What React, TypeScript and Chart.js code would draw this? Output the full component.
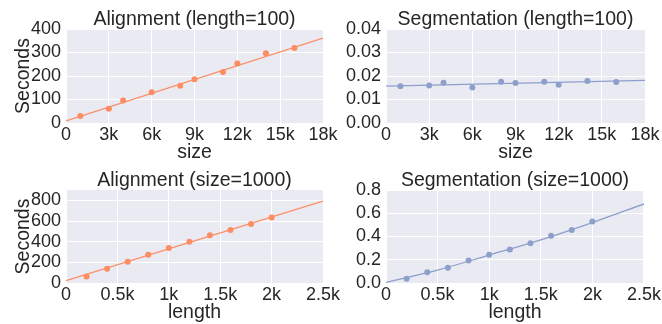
import React, { useEffect, useRef } from "react";
import { Chart, registerables } from "chart.js";

Chart.register(...registerables);

// ---------- data ----------
const sizes = [1000, 3000, 4000, 6000, 8000, 9000, 11000, 12000, 14000, 16000];
const alignBySizeSecs = [30, 61, 96, 131, 159, 186, 217, 253, 297, 319];
const segBySizeSecs = [0.0156, 0.016, 0.0171, 0.0151, 0.0176, 0.017, 0.0176, 0.0163, 0.0179, 0.0174];

const lengths = [200, 400, 600, 800, 1000, 1200, 1400, 1600, 1800, 2000];
const alignByLengthSecs = [64, 139, 206, 274, 339, 400, 461, 513, 571, 635];
const segByLengthSecs = [0.037, 0.092, 0.132, 0.193, 0.242, 0.288, 0.342, 0.406, 0.455, 0.529];

// fitted regression lines
const alignBySizeFitX = [0, 18000];
const alignBySizeFitY = [8.6, 361];
const segBySizeFitX = [0, 18000];
const segBySizeFitY = [0.0157, 0.0181];
const alignByLengthFitX = [0, 2500];
const alignByLengthFitY = [22.6, 793];
const segByLengthFitX = [0, 500, 1000, 1500, 2000, 2500];
const segByLengthFitY = [0.006, 0.111, 0.24, 0.371, 0.52, 0.68];

// tick labels
const sizeTicks = [0, 3000, 6000, 9000, 12000, 15000, 18000];
const lengthTicks = [0, 500, 1000, 1500, 2000, 2500];
const alignBySizeTicks = [0, 100, 200, 300, 400];
const segBySizeTicks = [0, 0.01, 0.02, 0.03, 0.04];
const alignByLengthTicks = [0, 200, 400, 600, 800];
const segByLengthTicks = [0, 0.2, 0.4, 0.6, 0.8];

// ---------- style ----------
const W = 662;
const H = 324;
const FONT = '"Liberation Sans", Arial, sans-serif';
const TEXT = "#262626";
const BG = "#EAEAF2";
const ORANGE = "#FC8D62";
const BLUE = "#8DA0CB";
const Y_W = 60;
const TITLE_SIZE = 19.5;
const TICK_SIZE = 18;

type Panel = {
  title: string;
  xLabel: string;
  yLabel: string;
  xs: number[];
  ys: number[];
  fitX: number[];
  fitY: number[];
  color: string;
  xTicks: number[];
  xMax: number;
  yTicks: number[];
  yMax: number;
  yDec: number;
  area: { left: number; top: number; right: number; bottom: number };
  xH: number;
  xTitlePad: number;
  curved: boolean;
};

const TOP = { top: 29, bottom: 123 };
const BOT = { top: 190, bottom: 283 };
const LEFT = { left: 66, right: 323 };
const RIGHT = { left: 386, right: 645 };

const panels: Panel[] = [
  {
    title: "Alignment (length=100)", xLabel: "size", yLabel: "Seconds",
    xs: sizes, ys: alignBySizeSecs, fitX: alignBySizeFitX, fitY: alignBySizeFitY, color: ORANGE,
    xTicks: sizeTicks, xMax: 18000, yTicks: alignBySizeTicks, yMax: 400, yDec: 0,
    area: { ...LEFT, ...TOP }, xH: 40, xTitlePad: 0.75, curved: false,
  },
  {
    title: "Segmentation (length=100)", xLabel: "size", yLabel: "",
    xs: sizes, ys: segBySizeSecs, fitX: segBySizeFitX, fitY: segBySizeFitY, color: BLUE,
    xTicks: sizeTicks, xMax: 18000, yTicks: segBySizeTicks, yMax: 0.04, yDec: 2,
    area: { ...RIGHT, ...TOP }, xH: 40, xTitlePad: 0.75, curved: false,
  },
  {
    title: "Alignment (size=1000)", xLabel: "length", yLabel: "Seconds",
    xs: lengths, ys: alignByLengthSecs, fitX: alignByLengthFitX, fitY: alignByLengthFitY, color: ORANGE,
    xTicks: lengthTicks, xMax: 2500, yTicks: alignByLengthTicks, yMax: 900, yDec: 0,
    area: { ...LEFT, ...BOT }, xH: 41, xTitlePad: 1.4, curved: false,
  },
  {
    title: "Segmentation (size=1000)", xLabel: "length", yLabel: "",
    xs: lengths, ys: segByLengthSecs, fitX: segByLengthFitX, fitY: segByLengthFitY, color: BLUE,
    xTicks: lengthTicks, xMax: 2500, yTicks: segByLengthTicks, yMax: 0.8, yDec: 1,
    area: { ...RIGHT, ...BOT }, xH: 41, xTitlePad: 1.4, curved: true,
  },
];

const bgPlugin = {
  id: "plotBg",
  beforeDraw(chart: any) {
    const { ctx, chartArea: a } = chart;
    ctx.save();
    ctx.fillStyle = BG;
    ctx.fillRect(a.left, a.top, a.right - a.left, a.bottom - a.top);
    ctx.restore();
  },
};

const fmtK = (v: number) => (v === 0 ? "0" : `${v / 1000}k`);

function makeConfig(p: Panel): any {
  const titleH = TITLE_SIZE;
  return {
    type: "scatter",
    data: {
      datasets: [
        {
          data: p.xs.map((x, i) => ({ x, y: p.ys[i] })),
          backgroundColor: p.color,
          borderColor: p.color,
          pointRadius: 3,
          pointBorderWidth: 0,
          showLine: false,
        },
        {
          data: p.fitX.map((x, i) => ({ x, y: p.fitY[i] })),
          borderColor: p.color,
          backgroundColor: p.color,
          borderWidth: 1.3,
          pointRadius: 0,
          showLine: true,
          cubicInterpolationMode: p.curved ? "monotone" : "default",
        },
      ],
    },
    options: {
      animation: false,
      responsive: false,
      devicePixelRatio: 1,
      events: [],
      layout: {
        autoPadding: false,
        padding: {
          left: p.area.left - Y_W,
          right: W - p.area.right,
          top: p.area.top - titleH,
          bottom: H - p.area.bottom - p.xH,
        },
      },
      plugins: {
        legend: { display: false },
        tooltip: { enabled: false },
        title: {
          display: true,
          text: p.title,
          color: TEXT,
          fullSize: false,
          padding: 0,
          font: { family: FONT, size: TITLE_SIZE, weight: "normal", lineHeight: 1 },
        },
      },
      scales: {
        x: {
          type: "linear",
          bounds: "data",
          min: 0,
          max: p.xMax,
          afterBuildTicks: (s: any) => {
            s.ticks = p.xTicks.map((v) => ({ value: v }));
          },
          afterFit: (s: any) => {
            s.height = p.xH;
          },
          grid: { color: "#ffffff", lineWidth: 1, drawTicks: false },
          border: { display: false },
          ticks: {
            padding: 1,
            color: TEXT,
            maxRotation: 0,
            autoSkip: false,
            font: { family: FONT, size: TICK_SIZE },
            callback: (v: number) => fmtK(v),
          },
          title: {
            display: true,
            text: p.xLabel,
            color: TEXT,
            padding: { top: 0, bottom: p.xTitlePad },
            font: { family: FONT, size: TITLE_SIZE, lineHeight: 1 },
          },
        },
        y: {
          type: "linear",
          bounds: "data",
          min: 0,
          max: p.yMax,
          afterBuildTicks: (s: any) => {
            s.ticks = p.yTicks.map((v) => ({ value: v }));
          },
          afterFit: (s: any) => {
            s.width = Y_W;
          },
          grid: { color: "#ffffff", lineWidth: 1, drawTicks: false },
          border: { display: false },
          ticks: {
            padding: 5,
            color: TEXT,
            autoSkip: false,
            font: { family: FONT, size: TICK_SIZE },
            callback: (v: number) => v.toFixed(p.yDec),
          },
          title: {
            display: p.yLabel !== "",
            text: p.yLabel,
            color: TEXT,
            padding: { top: 7.5, bottom: 0 },
            font: { family: FONT, size: TITLE_SIZE, lineHeight: 1 },
          },
        },
      },
    },
    plugins: [bgPlugin],
  };
}

function PanelCanvas({ panel }: { panel: Panel }) {
  const ref = useRef<HTMLCanvasElement | null>(null);
  useEffect(() => {
    if (!ref.current) return;
    const chart = new Chart(ref.current, makeConfig(panel));
    return () => chart.destroy();
  }, [panel]);
  return (
    <canvas
      ref={ref}
      width={W}
      height={H}
      style={{ position: "absolute", left: 0, top: 0, width: W, height: H }}
    />
  );
}

export default function App() {
  return (
    <div
      style={{
        position: "absolute",
        left: 0,
        top: 0,
        width: W,
        height: H,
        background: "#ffffff",
        overflow: "hidden",
      }}
    >
      {panels.map((p, i) => (
        <PanelCanvas key={i} panel={p} />
      ))}
    </div>
  );
}
